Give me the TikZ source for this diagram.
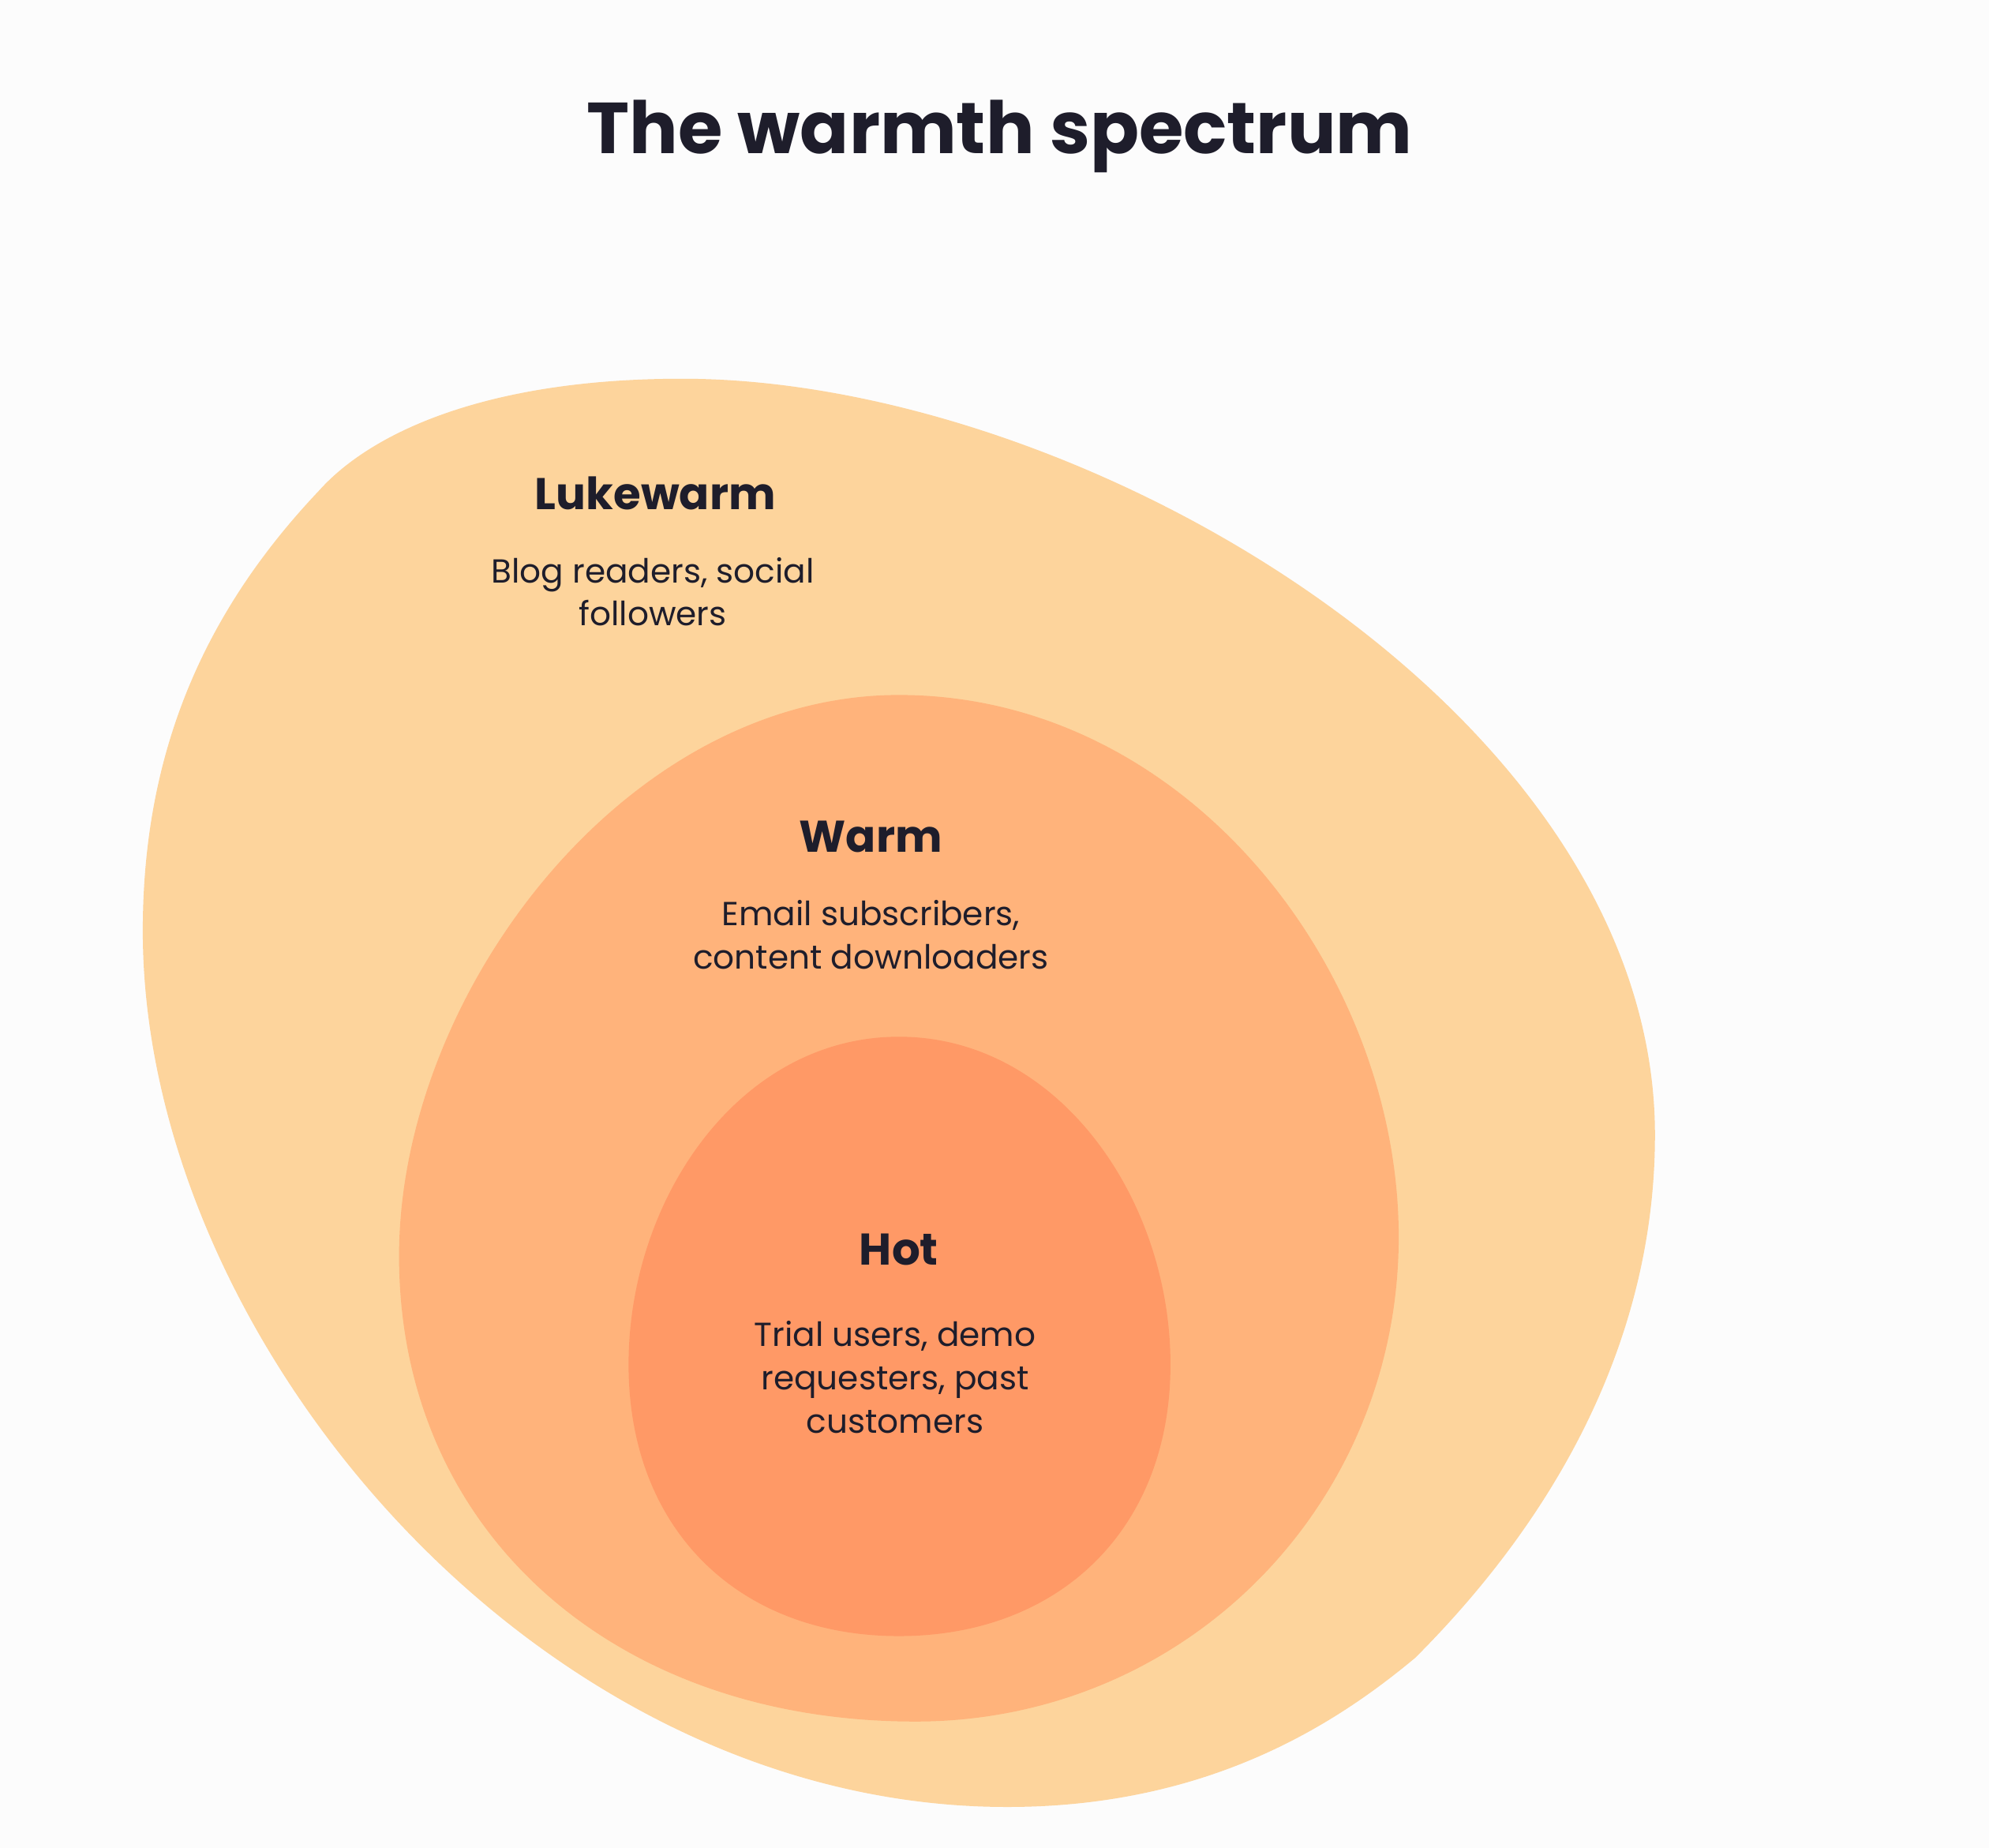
\documentclass[tikz,border=0pt]{standalone}
\usepackage{fontspec}
\setmainfont{Poppins}
\definecolor{ink}{HTML}{1E1D2B}
\definecolor{luke}{HTML}{FDD49C}
\definecolor{warmc}{HTML}{FFB37B}
\definecolor{hotc}{HTML}{FF9966}
\tikzset{
  head/.style={font=\fontsize{16}{19}\selectfont\bfseries,text=ink},
  body/.style={font=\fontsize{12}{15.5}\selectfont,text=ink,align=center}
}
\begin{document}
\begin{tikzpicture}[x=0.01615cm,y=-0.01615cm]
\useasboundingbox[fill=white!99!black] (0,0) rectangle (1560,1449);
% outer ring
\fill[luke] (535,297) .. controls (380,297) and (290,340) .. (250,385)
 .. controls (160,480) and (112,590) .. (112,730)
 .. controls (112,1050) and (420,1417) .. (790,1417)
 .. controls (950,1417) and (1050,1350) .. (1110,1300)
 .. controls (1230,1180) and (1298,1040) .. (1298,890)
 .. controls (1298,560) and (850,297) .. (535,297);
% middle ring
\fill[warmc] (705,545) .. controls (930,545) and (1097,760) .. (1097,970)
 .. controls (1097,1180) and (930,1350) .. (718,1350)
 .. controls (480,1350) and (313,1200) .. (313,985)
 .. controls (313,780) and (490,545) .. (705,545);
% inner ring
\fill[hotc] (705,813) .. controls (830,813) and (918,940) .. (918,1070)
 .. controls (918,1200) and (830,1283) .. (705,1283)
 .. controls (580,1283) and (493,1200) .. (493,1070)
 .. controls (493,940) and (580,813) .. (705,813);
\node[font=\fontsize{26}{30}\selectfont\bfseries,text=ink] (title) at (784,107) {The warmth spectrum};
\node[head] (luke) at (514,387) {Lukewarm};
\node[body] (lukeT) at (512,464) {Blog readers, social\\followers};
\node[head] (warm) at (683,656) {Warm};
\node[body] (warmT) at (683,733) {Email subscribers,\\content downloaders};
\node[head] (hot) at (705,980) {Hot};
\node[body] (hotT) at (702,1080) {Trial users, demo\\requesters, past\\customers};
\end{tikzpicture}
\end{document}
